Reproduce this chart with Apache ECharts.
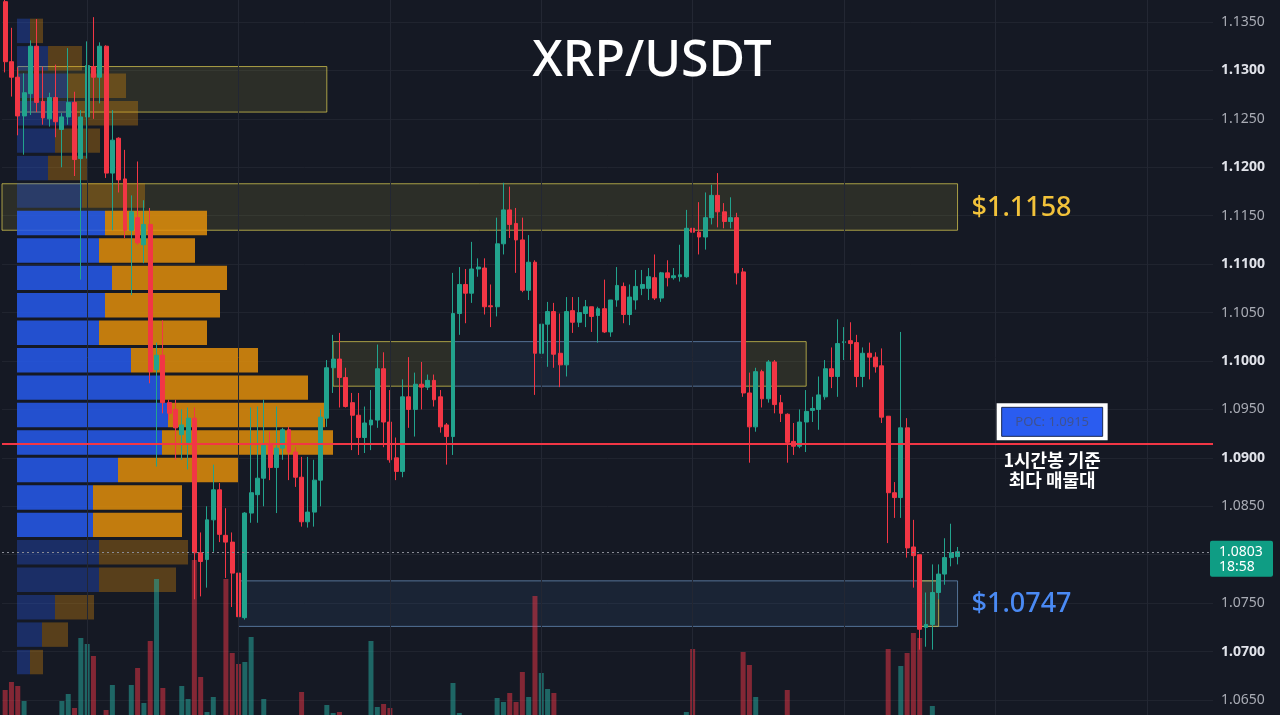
<!DOCTYPE html>
<html><head><meta charset="utf-8">
<script src="https://cdn.jsdelivr.net/npm/echarts@6/dist/echarts.min.js"></script>
<style>html,body{margin:0;padding:0;background:#151924;}#c{width:1280px;height:715px;}</style>
</head><body><div id="c"></div>
<script>
// ---- DATA ----
// candles: [open, high, low, close]
const ohlc = [
[1.1371,1.1373,1.1298,1.1309],[1.1309,1.1344,1.1273,1.1293],[1.1293,1.1303,1.1233,1.1253],[1.1253,1.1297,1.1213,1.1277],
[1.1276,1.1331,1.1254,1.1325],[1.1325,1.1353,1.1257,1.1267],[1.1268,1.1304,1.1244,1.1251],[1.1250,1.1277,1.1242,1.1272],
[1.1272,1.1306,1.1231,1.1247],[1.1239,1.1256,1.1200,1.1252],[1.1252,1.1323,1.1244,1.1267],[1.1267,1.1278,1.1191,1.1208],
[1.1209,1.1259,1.1084,1.1252],[1.1252,1.1330,1.1209,1.1305],[1.1304,1.1355,1.1250,1.1293],[1.1293,1.1329,1.1266,1.1325],
[1.1325,1.1326,1.1189,1.1194],[1.1194,1.1259,1.1135,1.1228],[1.1230,1.1231,1.1174,1.1187],[1.1188,1.1218,1.1127,1.1135],
[1.1135,1.1171,1.1068,1.1154],[1.1148,1.1206,1.1120,1.1122],[1.1120,1.1166,1.1101,1.1141],[1.1141,1.1158,1.0977,1.0989],
[1.0991,1.1019,1.0891,1.1006],[1.1006,1.1042,1.0946,1.0957],[1.0957,1.0960,1.0939,1.0946],[1.0950,1.0960,1.0898,1.0931],
[1.0924,1.0950,1.0898,1.0934],[1.0916,1.0952,1.0888,1.0941],[1.0941,1.0952,1.0754,1.0802],[1.0802,1.0823,1.0757,1.0793],
[1.0795,1.0850,1.0766,1.0836],[1.0836,1.0893,1.0803,1.0867],[1.0867,1.0874,1.0813,1.0821],[1.0820,1.0848,1.0776,1.0813],
[1.0813,1.0823,1.0746,1.0781],[1.0781,1.0785,1.0695,1.0736],[1.0735,1.0844,1.0733,1.0843],[1.0843,1.0952,1.0833,1.0864],
[1.0862,1.0953,1.0833,1.0879],[1.0879,1.0960,1.0850,1.0913],[1.0913,1.0927,1.0877,1.0890],[1.0890,1.0953,1.0843,1.0910],
[1.0910,1.0931,1.0898,1.0929],[1.0929,1.0932,1.0877,1.0906],[1.0906,1.0911,1.0870,1.0880],[1.0880,1.0901,1.0829,1.0834],
[1.0834,1.0901,1.0828,1.0844],[1.0844,1.0898,1.0829,1.0877],[1.0877,1.0950,1.0850,1.0942],[1.0941,1.1001,1.0932,1.0993],
[1.0993,1.1027,1.0967,1.1002],[1.1002,1.1029,1.0952,1.0983],[1.0983,1.0993,1.0952,1.0953],[1.0957,1.0967,1.0908,1.0944],
[1.0944,1.0967,1.0903,1.0921],[1.0921,1.0953,1.0905,1.0936],[1.0934,1.0970,1.0908,1.0939],[1.0939,1.1017,1.0931,1.0992],
[1.0992,1.1009,1.0911,1.0937],[1.0937,1.0970,1.0895,1.0898],[1.0900,1.0921,1.0877,1.0886],[1.0886,1.0981,1.0880,1.0963],
[1.0963,1.1004,1.0931,1.0950],[1.0950,1.0988,1.0922,1.0976],[1.0976,1.0999,1.0950,1.0973],[1.0973,1.0986,1.0970,1.0980],
[1.0980,1.0986,1.0953,1.0960],[1.0963,1.0970,1.0926,1.0932],[1.0934,1.0936,1.0893,1.0922],[1.0922,1.1091,1.0903,1.1049],
[1.1049,1.1097,1.1027,1.1079],[1.1079,1.1095,1.1039,1.1070],[1.1070,1.1123,1.1060,1.1095],[1.1095,1.1106,1.1087,1.1097],
[1.1096,1.1106,1.1048,1.1056],[1.1057,1.1079,1.1035,1.1056],[1.1056,1.1148,1.1046,1.1121],[1.1121,1.1184,1.1110,1.1156],
[1.1156,1.1180,1.1127,1.1141],[1.1142,1.1158,1.1091,1.1125],[1.1125,1.1148,1.1071,1.1073],[1.1073,1.1130,1.1063,1.1102],
[1.1102,1.1104,1.0965,1.1008],[1.1008,1.1058,1.1001,1.1038],[1.1038,1.1061,1.0994,1.1051],[1.1051,1.1060,1.0993,1.1007],
[1.1008,1.1049,1.0973,1.0996],[1.0996,1.1066,1.0984,1.1051],[1.1052,1.1066,1.1029,1.1040],[1.1040,1.1066,1.1035,1.1050],
[1.1049,1.1063,1.1035,1.1056],[1.1056,1.1056,1.1030,1.1046],[1.1047,1.1056,1.1019,1.1054],[1.1054,1.1084,1.1029,1.1030],
[1.1030,1.1063,1.1025,1.1063],[1.1063,1.1097,1.1056,1.1078],[1.1077,1.1081,1.1039,1.1048],[1.1048,1.1079,1.1037,1.1066],
[1.1063,1.1094,1.1053,1.1077],[1.1075,1.1094,1.1068,1.1079],[1.1075,1.1096,1.1063,1.1087],[1.1086,1.1110,1.1063,1.1065],
[1.1065,1.1092,1.1061,1.1091],[1.1091,1.1104,1.1077,1.1086],[1.1086,1.1096,1.1084,1.1088],[1.1087,1.1120,1.1082,1.1089],
[1.1087,1.1156,1.1086,1.1137],[1.1137,1.1184,1.1094,1.1133],[1.1133,1.1164,1.1110,1.1128],[1.1128,1.1174,1.1115,1.1148],
[1.1148,1.1182,1.1141,1.1171],[1.1171,1.1194,1.1138,1.1154],[1.1154,1.1163,1.1137,1.1144],[1.1144,1.1169,1.1137,1.1148],
[1.1148,1.1153,1.1079,1.1091],[1.1092,1.1096,1.0963,1.0967],[1.0967,1.0988,1.0895,1.0932],[1.0932,1.0993,1.0927,1.0989],
[1.0989,1.0991,1.0952,1.0961],[1.0961,1.1001,1.0957,1.0999],[1.0999,1.1001,1.0946,1.0955],[1.0957,1.0965,1.0937,1.0946],
[1.0945,1.0946,1.0895,1.0916],[1.0917,1.0936,1.0903,1.0912],[1.0912,1.0950,1.0910,1.0937],[1.0937,1.0970,1.0906,1.0948],
[1.0949,1.0963,1.0937,1.0951],[1.0950,1.0984,1.0929,1.0965],[1.0963,1.1001,1.0960,1.0992],[1.0992,1.1014,1.0972,1.0984],
[1.0984,1.1043,1.0963,1.1018],[1.1019,1.1035,1.1001,1.1020],[1.1021,1.1040,1.1001,1.1018],[1.1019,1.1027,1.0973,1.0984],
[1.0984,1.1014,1.0973,1.1008],[1.1008,1.1019,1.0981,1.1004],[1.1004,1.1009,1.0988,1.0994],[1.0995,1.1013,1.0936,1.0942],
[1.0943,1.0943,1.0812,1.0864],[1.0864,1.0875,1.0838,1.0859],[1.0859,1.1030,1.0838,1.0931],[1.0931,1.0941,1.0797,1.0807],
[1.0808,1.0836,1.0766,1.0799],[1.0800,1.0800,1.0702,1.0723],[1.0725,1.0761,1.0705,1.0728],[1.0728,1.0790,1.0702,1.0761],
[1.0761,1.0790,1.0754,1.0780],[1.0780,1.0817,1.0769,1.0797],[1.0797,1.0832,1.0788,1.0802],[1.0798,1.0808,1.0790,1.0803]
];
const volume = [
45,53,49,34,12,15,10,8,14,34,41,27,97,91,79,12,25,50,14,16,50,67,32,94,156,47,12,15,49,36,175,58,23,38,16,156,82,71,73,98,
17,36,12,15,10,13,11,43,14,12,18,30,22,23,12,10,14,9,94,28,31,27,15,17,10,12,8,7,9,11,14,52,22,12,14,8,11,10,37,33,
42,33,63,38,139,62,46,42,16,18,10,8,7,9,8,12,11,13,10,9,11,7,9,12,10,8,6,13,23,86,15,14,16,12,9,8,18,83,70,38,
15,14,17,12,45,13,12,14,8,11,13,10,15,8,9,12,11,8,7,17,86,18,69,82,102,97,16,29,14,12,10,6
];
// volume profile rows, from the highest price row to the lowest
const profileBuy  = [13,31,50,58,38,31,65,88,82,95,88,82,114,148,151,145,101,76,76,82,82,38,25,13];
const profileSell = [13,34,59,63,45,40,63,102,96,115,115,108,127,143,157,171,121,89,89,89,77,39,26,13];
const profileHigh = 1.1355, profileLow = 1.0675;
const valueAreaFirstRow = 7, valueAreaLastRow = 18;
// zones: candle index range and price range
const zoneFrom   = [2, 0, 52, 71, 117, 37, 145];
const zoneTo     = [51, 151, 71, 117, 127, 151, 148];
const zoneTop    = [1.1304, 1.1183, 1.1020, 1.1020, 1.1020, 1.0773, 1.0773];
const zoneBottom = [1.1257, 1.1135, 1.0974, 1.0974, 1.0974, 1.0726, 1.0726];
const zoneKind   = ['y','y','y','b','y','b','y'];
const pocPrice = 1.0915;
const lastPrice = 1.0803;
const countdown = '18:58';
const resistanceLabel = '$1.1158', supportLabel = '$1.0747';
const axisMin = 1.06, axisMax = 1.14, axisStep = 0.005;
const slotCount = 192;
const vGridEvery = 24, vGridStart = 13;

// ---- CHART ----
const chart = echarts.init(document.getElementById('c'));
const cats = Array.from({length: slotCount}, (_, i) => String(i));
const PRICE_TOP = -26.43, PRICE_H = 774.86;
const UP = '#22a38d', DOWN = '#f23645';
const FONT = 'Noto Sans';

const candleData = ohlc.map(r => [r[0], r[3], r[2], r[1]]);
const volData = volume.map((v, i) => ({value: v, itemStyle: {color: ohlc[i][3] >= ohlc[i][0] ? 'rgba(38,166,154,0.55)' : 'rgba(242,54,69,0.5)'}}));
const profData = profileBuy.map((b, k) => [k, b, profileSell[k]]);
const zoneData = zoneFrom.map((f, k) => [f, zoneTo[k], zoneTop[k], zoneBottom[k], zoneKind[k] === 'y' ? 1 : 0]);
const vLines = [];
for (let i = vGridStart; i < slotCount; i += vGridEvery) vLines.push({xAxis: String(i), lineStyle: {color: '#232733', width: 1, type: 'solid'}});

const priceAxisCommon = {type: 'value', min: axisMin, max: axisMax, interval: axisStep, scale: true};

chart.setOption({
  backgroundColor: '#151924',
  animation: false,
  grid: [
    {left: 2, right: 67, top: PRICE_TOP, height: PRICE_H, outerBoundsMode: 'none', containLabel: false},
    {left: 17, width: 1000, top: PRICE_TOP, height: PRICE_H, outerBoundsMode: 'none', containLabel: false},
    {left: 2, right: 67, top: 400, height: 335, outerBoundsMode: 'none', containLabel: false}
  ],
  xAxis: [
    {type: 'category', data: cats, gridIndex: 0, boundaryGap: true, axisLine: {show: false}, axisTick: {show: false}, axisLabel: {show: false}, splitLine: {show: false}},
    {type: 'value', gridIndex: 1, min: 0, max: 1000, show: false},
    {type: 'category', data: cats, gridIndex: 2, boundaryGap: true, show: false}
  ],
  yAxis: [
    Object.assign({}, priceAxisCommon, {gridIndex: 0, position: 'right',
      axisLine: {show: false}, axisTick: {show: false},
      splitLine: {show: true, lineStyle: {color: '#20242f', width: 1}},
      axisLabel: {margin: 8, fontFamily: FONT, fontSize: 14,
        formatter: v => {
          const s = v.toFixed(4);
          return (Math.round(v * 1000) % 10 === 0) ? '{b|' + s + '}' : '{n|' + s + '}';
        },
        rich: {b: {color: '#e1e3ea', fontWeight: 'bold', fontSize: 14, fontFamily: FONT},
               n: {color: '#a9acb5', fontSize: 14, fontFamily: FONT}}}
    }),
    Object.assign({}, priceAxisCommon, {gridIndex: 1, show: false}),
    {type: 'value', gridIndex: 2, min: 0, max: 335, show: false}
  ],
  series: [
    { // zones
      type: 'custom', xAxisIndex: 0, yAxisIndex: 0, z: 1, silent: true,
      data: zoneData,
      renderItem: (params, api) => {
        const half = api.size([1, 0])[0] / 2;
        const from = api.value(0), to = api.value(1);
        const p0 = api.coord([from, api.value(2)]);
        const p1 = api.coord([to, api.value(3)]);
        let x0 = p0[0]; if (from === 0) x0 -= half;
        const yellow = api.value(4) === 1;
        return {type: 'rect', shape: {x: x0, y: p0[1], width: p1[0] - x0, height: p1[1] - p0[1]},
          style: {fill: yellow ? 'rgba(170,160,60,0.16)' : 'rgba(60,105,160,0.14)',
                  stroke: yellow ? 'rgba(215,200,80,0.75)' : 'rgba(110,150,195,0.7)', lineWidth: 1}};
      }
    },
    { // reference lines
      type: 'line', xAxisIndex: 0, yAxisIndex: 0, data: [], z: 1,
      markLine: {silent: true, symbol: ['none', 'none'], animation: false, precision: 4, label: {show: false},
        data: vLines.concat([
          {yAxis: pocPrice, lineStyle: {color: '#f23645', width: 2, type: 'solid'}},
          {yAxis: lastPrice, lineStyle: {color: '#8a8d96', width: 1, type: [2, 3]}}
        ])}
    },
    { // volume profile
      type: 'custom', xAxisIndex: 1, yAxisIndex: 1, z: 2, silent: true,
      data: profData,
      renderItem: (params, api) => {
        const k = api.value(0), b = api.value(1), s = api.value(2);
        const step = (profileHigh - profileLow) / profileBuy.length;
        const top = profileHigh - k * step, bot = top - step;
        const a = api.coord([0, top]), m = api.coord([b, bot]), e = api.coord([b + s, bot]);
        const rowH = m[1] - a[1];
        const y = a[1] + 1.5, h = rowH - 3;
        const bright = k >= valueAreaFirstRow && k <= valueAreaLastRow;
        return {type: 'group', children: [
          {type: 'rect', shape: {x: a[0], y, width: m[0] - a[0], height: h}, style: {fill: bright ? 'rgba(38,90,237,0.85)' : 'rgba(38,90,237,0.33)'}},
          {type: 'rect', shape: {x: m[0], y, width: e[0] - m[0], height: h}, style: {fill: bright ? 'rgba(225,142,10,0.85)' : 'rgba(225,142,10,0.33)'}}
        ]};
      }
    },
    { // volume
      type: 'bar', xAxisIndex: 2, yAxisIndex: 2, data: volData, barWidth: 5, z: 2, silent: true
    },
    { // candles
      type: 'candlestick', xAxisIndex: 0, yAxisIndex: 0, data: candleData, barWidth: 4.4, z: 3, silent: true,
      itemStyle: {color: UP, color0: DOWN, borderColor: UP, borderColor0: DOWN, borderWidth: 1}
    }
  ]
});

// ---- annotations anchored to data ----
const px = (i, p) => chart.convertToPixel({gridIndex: 0}, [i, p]);
const resY = px(151, (zoneTop[1] + zoneBottom[1]) / 2);
const supY = px(151, (zoneTop[5] + zoneBottom[5]) / 2);
const poc = px(166, pocPrice);
const last = px(0, lastPrice);
chart.setOption({
  graphic: [
    {type: 'text', x: 652, y: 62, z: 10, style: {text: 'XRP/USDT', fill: '#ffffff', font: '500 50px "Noto Sans"', align: 'center', verticalAlign: 'middle'}},
    {type: 'text', x: resY[0] + 14, y: resY[1] + 1, z: 10, style: {text: resistanceLabel, fill: '#f2c23a', font: '500 27px "Noto Sans"', align: 'left', verticalAlign: 'middle'}},
    {type: 'text', x: supY[0] + 14, y: supY[1] + 1, z: 10, style: {text: supportLabel, fill: '#4a8af4', font: '500 27px "Noto Sans"', align: 'left', verticalAlign: 'middle'}},
    {type: 'rect', z: 10, shape: {x: poc[0] - 55.5, y: poc[1] - 40, width: 111, height: 37}, style: {fill: '#ffffff'}},
    {type: 'rect', z: 11, shape: {x: poc[0] - 50.5, y: poc[1] - 36, width: 101, height: 29}, style: {fill: '#2a5cf0', stroke: '#1b2a55', lineWidth: 1}},
    {type: 'text', z: 12, x: poc[0], y: poc[1] - 21.5, style: {text: 'POC: ' + pocPrice.toFixed(4), fill: '#3f5290', font: '13px "Noto Sans"', align: 'center', verticalAlign: 'middle'}},
    {type: 'text', z: 12, x: poc[0], y: poc[1] + 17, style: {text: '1시간봉 기준', fill: '#ffffff', font: 'bold 18px "Noto Sans CJK KR"', align: 'center', verticalAlign: 'middle'}},
    {type: 'text', z: 12, x: poc[0], y: poc[1] + 37, style: {text: '최다 매물대', fill: '#ffffff', font: 'bold 18px "Noto Sans CJK KR"', align: 'center', verticalAlign: 'middle'}},
    {type: 'rect', z: 12, shape: {x: 1210, y: last[1] - 11, width: 63, height: 36, r: 2}, style: {fill: '#0f9d84'}},
    {type: 'text', z: 13, x: 1219, y: last[1], style: {text: lastPrice.toFixed(4), fill: '#ffffff', font: '14px "Noto Sans"', align: 'left', verticalAlign: 'middle'}},
    {type: 'text', z: 13, x: 1219, y: last[1] + 15, style: {text: countdown, fill: '#ffffff', font: '14px "Noto Sans"', align: 'left', verticalAlign: 'middle'}}
  ]
});
</script></body></html>
